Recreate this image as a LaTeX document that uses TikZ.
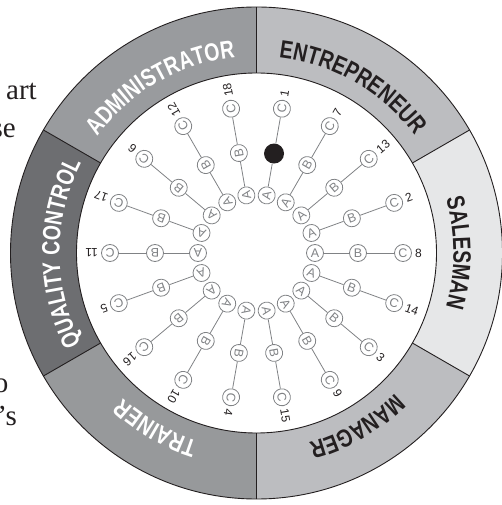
\documentclass[tikz,border=0pt]{standalone}
\usepackage{fontspec}
\setmainfont{Liberation Serif}
\newfontfamily\lblfont{Liberation Sans Bold}[FakeStretch=0.78]
\newfontfamily\pinfont{Liberation Sans}
\newcommand\bandfont{\lblfont\fontsize{25}{27}\selectfont}
\usetikzlibrary{decorations.text}
\definecolor{admingray}{HTML}{999B9E}
\definecolor{entrgray}{HTML}{BCBDC0}
\definecolor{salesgray}{HTML}{E6E7E8}
\definecolor{mangray}{HTML}{BCBDC0}
\definecolor{traingray}{HTML}{97999B}
\definecolor{qcgray}{HTML}{6D6E71}
\definecolor{inkdark}{HTML}{231F20}
\definecolor{pingray}{HTML}{808285}

\begin{document}
\begin{tikzpicture}[x=1pt, y=1pt,
    ringnode/.style={circle, draw=pingray, line width=0.8pt, minimum size=17pt, inner sep=0pt, font=\pinfont\fontsize{12.5}{12.5}\selectfont, text=pingray},
    dotnode/.style={circle, fill=inkdark, minimum size=20pt, inner sep=0pt},
    spokeline/.style={draw=pingray, line width=0.8pt},
    numlabel/.style={font=\pinfont\fontsize{12}{12}\selectfont, text=inkdark, inner sep=1pt, anchor=west},
    sector/.style={draw=inkdark, line width=0.9pt},
    bandtext/.style={decorate, decoration={text along path, text align=center, text color=#1}},
    pagetext/.style={font=\fontsize{29}{34}\selectfont, text=inkdark, anchor=base east, inner sep=0pt}]
            \useasboundingbox (-256.5,-252) rectangle (245.5,253);
            \clip (-256.5,-252) rectangle (245.5,253);
            % Cut-off page text
            \node[pagetext] (frag1) at (-219.5,153) {art};
            \node[pagetext] (frag2) at (-240.5,115) {se};
            \node[pagetext] (frag3) at (-248,-139) {o};
            \node[pagetext] (frag4) at (-239.5,-172) {’s};
            % Sectors of the ring
            \fill[admingray] (90:180) -- (90:246) arc[start angle=90, end angle=150, radius=246] -- (150:180) arc[start angle=150, end angle=90, radius=180] -- cycle;
            \fill[entrgray] (30:180) -- (30:246) arc[start angle=30, end angle=90, radius=246] -- (90:180) arc[start angle=90, end angle=30, radius=180] -- cycle;
            \fill[salesgray] (-30:180) -- (-30:246) arc[start angle=-30, end angle=30, radius=246] -- (30:180) arc[start angle=30, end angle=-30, radius=180] -- cycle;
            \fill[mangray] (-90:180) -- (-90:246) arc[start angle=-90, end angle=-30, radius=246] -- (-30:180) arc[start angle=-30, end angle=-90, radius=180] -- cycle;
            \fill[traingray] (-150:180) -- (-150:246) arc[start angle=-150, end angle=-90, radius=246] -- (-90:180) arc[start angle=-90, end angle=-150, radius=180] -- cycle;
            \fill[qcgray] (150:180) -- (150:246) arc[start angle=150, end angle=210, radius=246] -- (210:180) arc[start angle=210, end angle=150, radius=180] -- cycle;
            \draw[sector] (0,0) circle[radius=246];
            \draw[sector] (0,0) circle[radius=180];
            \foreach \a in {30,90,...,330} \draw[sector] (\a:180) -- (\a:246);
            % Role names
            \path[bandtext=white, decoration={text={|\bandfont|ADMINISTRATOR}}] (150:197) arc[start angle=150, end angle=90, radius=197];
            \path[bandtext=inkdark, decoration={text={|\bandfont|ENTREPRENEUR}}] (90:197) arc[start angle=90, end angle=30, radius=197];
            \path[bandtext=inkdark, decoration={text={|\bandfont|SALESMAN}}] (30:197) arc[start angle=30, end angle=-30, radius=197];
            \path[bandtext=inkdark, decoration={text={|\bandfont|MANAGER}}] (-30:197) arc[start angle=-30, end angle=-90, radius=197];
            \path[bandtext=white, decoration={text={|\bandfont|TRAINER}}] (-90:197) arc[start angle=-90, end angle=-150, radius=197];
            \path[bandtext=white, decoration={text={|\bandfont|QUALITY CONTROL}}] (210:197) arc[start angle=210, end angle=150, radius=197];
            % Spokes A - B - C
            \foreach \n/\ang in {1/80, 7/60, 13/40, 2/20, 8/0, 14/-20, 3/-40, 9/-60, 15/-80, 4/-100, 10/-120, 16/-140, 5/-160, 11/180, 17/160, 6/140, 12/120, 18/100}{
                \node[ringnode, rotate=\ang] (A\n) at (\ang:58.5) {A};
                \ifnum\n=1
                    \node[dotnode] (B\n) at (\ang:101) {};
                \else
                    \node[ringnode, rotate=\ang] (B\n) at (\ang:101.5) {B};
                \fi
                \node[ringnode, rotate=\ang] (C\n) at (\ang:146.5) {C};
                \draw[spokeline] (A\n) -- (B\n) -- (C\n);
                \node[numlabel, rotate=\ang] (N\n) at (\ang:157.5) {\n};
            }
        \end{tikzpicture}
\end{document}
